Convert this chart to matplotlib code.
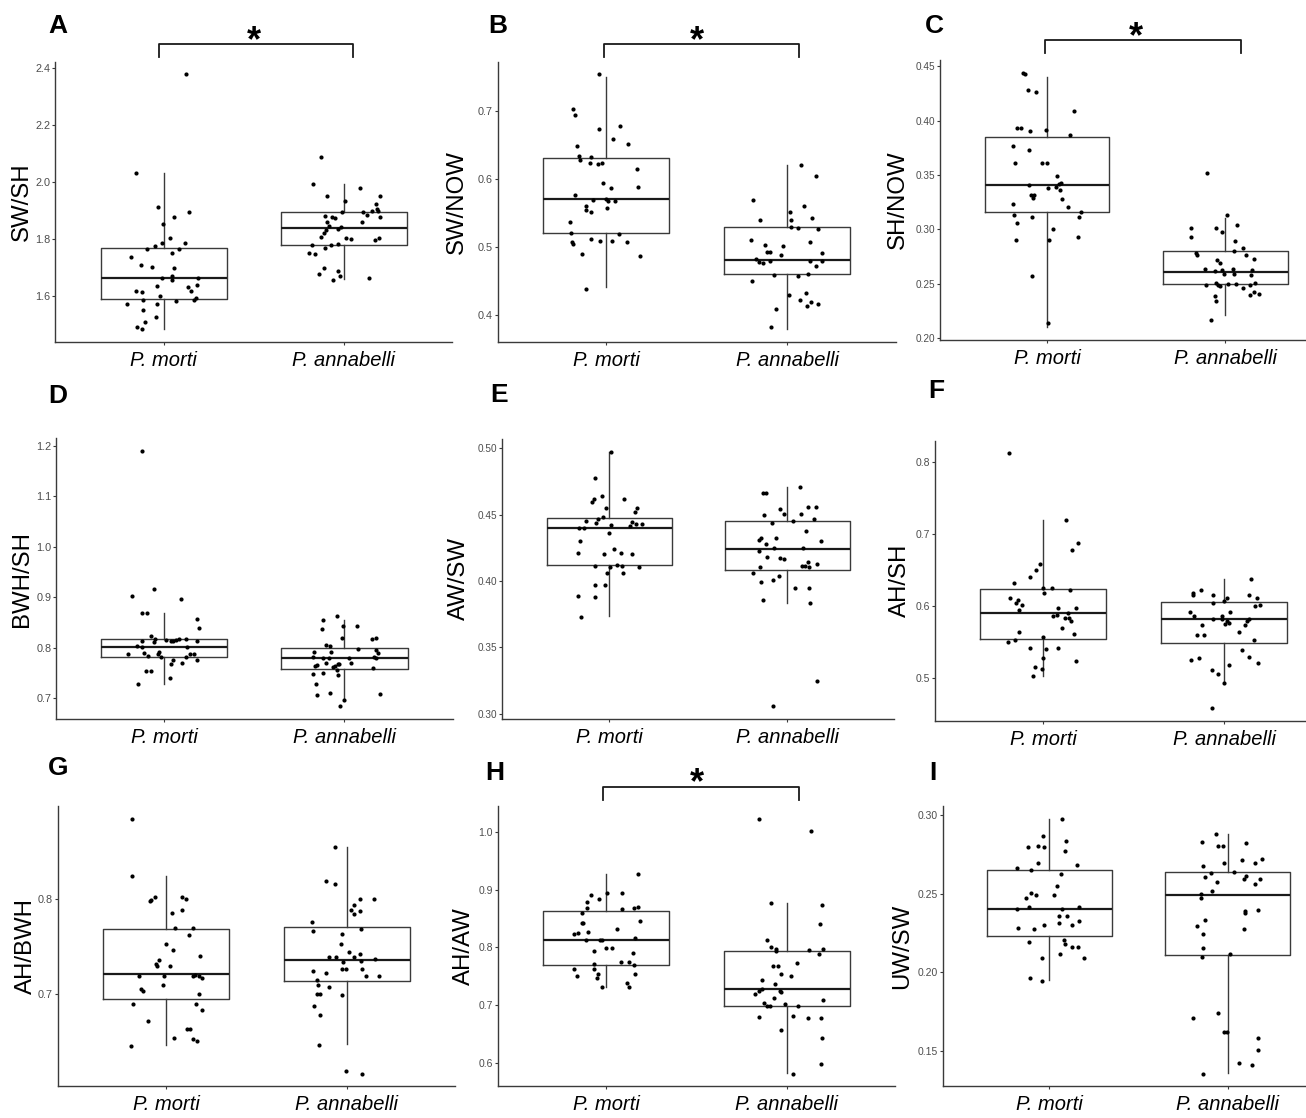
import numpy as np
import matplotlib
matplotlib.use("Agg")
import matplotlib.pyplot as plt
import matplotlib.transforms as mtransforms

plt.rcParams['font.family'] = ['Liberation Sans', 'DejaVu Sans']

SPECIES = ['P. morti', 'P. annabelli']

# jitter offsets are stored in 1/540 of the spacing between the two groups
JIT_UNIT = 540.0

# ---- A: SW/SH ----
A_MORTI = [2.376, 2.031, 1.913, 1.895, 1.853, 1.878, 1.802, 1.787, 1.787, 1.774, 1.766, 1.766, 1.738,
           1.750, 1.709, 1.702, 1.699, 1.662, 1.669, 1.656, 1.662, 1.637, 1.640, 1.633, 1.619, 1.619,
           1.615, 1.602, 1.592, 1.588, 1.586, 1.584, 1.572, 1.574, 1.550, 1.526, 1.509, 1.492, 1.485]
A_MORTI_DX = [67, -83, -18, 75, -2, 31, 18, -6, 64, -27, -51, 45, -97, 24, -67, -34, 30, -4, 26, 26,
              104, -21, 100, 73, 82, -84, -65, -12, 97, -63, 92, 36, -109, -19, -63, -22, -55, -81, -64]
A_ANNA = [2.087, 1.991, 1.949, 1.977, 1.951, 1.934, 1.923, 1.905, 1.897, 1.895, 1.894, 1.897, 1.885,
          1.879, 1.876, 1.874, 1.876, 1.859, 1.859, 1.843, 1.847, 1.835, 1.833, 1.820, 1.807, 1.802,
          1.800, 1.802, 1.797, 1.780, 1.781, 1.778, 1.770, 1.752, 1.748, 1.700, 1.688, 1.678, 1.671,
          1.658, 1.663]
A_ANNA_DX = [-68, -94, -52, 48, 107, 3, 97, 98, 85, 57, -5, 103, 70, -57, -37, -26, 107, 54, -50, -10,
             -44, -19, -55, -59, -70, 7, 21, 106, 94, -97, -17, -40, -58, -106, -86, -59, -17, -74, -13,
             -32, 74]
A_BOX = [[1.485, 1.591, 1.664, 1.770, 2.031], [1.659, 1.780, 1.840, 1.895, 1.991]]
A_TICKS = [1.6, 1.8, 2.0, 2.2, 2.4]

# ---- B: SW/NOW ----
B_MORTI = [0.753, 0.702, 0.693, 0.673, 0.677, 0.658, 0.651, 0.648, 0.633, 0.627, 0.632, 0.623, 0.622,
           0.623, 0.614, 0.594, 0.586, 0.588, 0.577, 0.569, 0.570, 0.568, 0.568, 0.560, 0.554, 0.551,
           0.557, 0.537, 0.521, 0.508, 0.504, 0.512, 0.509, 0.509, 0.519, 0.507, 0.490, 0.487, 0.439]
B_MORTI_DX = [-20, -100, -94, -22, 41, 20, 65, -87, -81, -79, -44, -49, -24, -11, 93, -8, 15, 95, -94,
              -40, -1, 5, 26, -60, -61, -44, 2, -107, -106, -103, -99, -44, -18, 19, 39, 62, -72, 101, -60]
B_ANNA = [0.620, 0.604, 0.569, 0.560, 0.551, 0.539, 0.539, 0.542, 0.529, 0.528, 0.527, 0.510, 0.507,
          0.503, 0.501, 0.493, 0.493, 0.489, 0.492, 0.483, 0.478, 0.477, 0.479, 0.479, 0.479, 0.473,
          0.459, 0.458, 0.460, 0.451, 0.430, 0.432, 0.422, 0.420, 0.417, 0.413, 0.409, 0.383]
B_ANNA_DX = [41, 87, -103, 50, 8, -82, 13, 73, 11, 34, 91, -108, 69, -65, -12, -61, -52, -18, 103, -92,
             -85, -71, -52, 68, 105, 86, -38, 34, 62, -106, 7, 57, 38, 71, 91, 58, -34, -47]
B_BOX = [[0.442, 0.520, 0.570, 0.630, 0.749], [0.380, 0.460, 0.481, 0.529, 0.621]]
B_TICKS = [0.4, 0.5, 0.6, 0.7]

# ---- C: SH/NOW ----
C_MORTI = [0.444, 0.443, 0.428, 0.426, 0.409, 0.393, 0.393, 0.390, 0.391, 0.387, 0.377, 0.373, 0.361,
           0.361, 0.361, 0.349, 0.343, 0.342, 0.341, 0.339, 0.338, 0.336, 0.332, 0.332, 0.329, 0.328,
           0.321, 0.323, 0.316, 0.313, 0.306, 0.311, 0.311, 0.300, 0.293, 0.290, 0.290, 0.257, 0.214]
C_MORTI_DX = [-72, -68, -57, -34, 81, -91, -78, -50, -4, 69, -104, -54, -98, -16, 0, 31, 43, 35, -53, 26,
              3, 40, -47, -40, -43, 44, 65, -104, 104, -100, -92, -45, 98, 19, 94, -95, 5, -46, 3]
C_ANNA = [0.352, 0.313, 0.304, 0.301, 0.301, 0.298, 0.293, 0.289, 0.283, 0.280, 0.278, 0.276, 0.276,
          0.272, 0.273, 0.269, 0.264, 0.263, 0.264, 0.263, 0.262, 0.259, 0.259, 0.258, 0.251, 0.249,
          0.251, 0.249, 0.250, 0.250, 0.249, 0.248, 0.246, 0.242, 0.241, 0.240, 0.239, 0.234, 0.217]
C_ANNA_DX = [-55, 6, 37, -105, -29, -10, -105, 28, 53, 27, -89, -86, 63, -24, 87, -17, -60, -10, 24, 80,
             -31, -3, 25, 77, 90, -58, -28, -23, 9, 32, 75, -16, 55, 87, 102, 76, -31, -27, -44]
C_BOX = [[0.210, 0.316, 0.341, 0.385, 0.440], [0.221, 0.250, 0.261, 0.280, 0.310]]
C_TICKS = [0.20, 0.25, 0.30, 0.35, 0.40, 0.45]

# ---- D: BWH/SH ----
D_MORTI = [1.189, 0.916, 0.903, 0.897, 0.869, 0.868, 0.856, 0.839, 0.823, 0.818, 0.816, 0.814, 0.816,
           0.817, 0.818, 0.813, 0.813, 0.812, 0.813, 0.803, 0.801, 0.801, 0.792, 0.788, 0.789, 0.788,
           0.784, 0.787, 0.788, 0.781, 0.781, 0.776, 0.775, 0.768, 0.769, 0.753, 0.753, 0.739, 0.728]
D_MORTI_DX = [-65, -29, -96, 49, -67, -52, 97, 105, -38, -28, 6, 26, 35, 45, 65, 97, -67, -31, 20, -82,
              -65, 68, -17, -19, -61, -108, -47, 76, 88, -11, 65, 26, 97, 21, 53, -54, -40, 16, -78]
D_ANNA = [0.862, 0.854, 0.842, 0.842, 0.836, 0.820, 0.820, 0.817, 0.805, 0.803, 0.798, 0.796, 0.792,
          0.792, 0.789, 0.781, 0.779, 0.780, 0.779, 0.781, 0.780, 0.769, 0.767, 0.769, 0.768, 0.763,
          0.764, 0.765, 0.761, 0.759, 0.755, 0.747, 0.750, 0.745, 0.729, 0.711, 0.706, 0.709, 0.697,
          0.684]
D_ANNA_DX = [-23, -65, 37, -3, -68, 95, -6, 83, -56, -44, 40, 95, -90, -40, 101, -95, -64, -46, 13, 88,
             95, -56, -20, 21, -15, -28, -89, -82, -34, 84, -22, -93, -63, -18, -86, -43, -83, 106, -2, -13]
D_BOX = [[0.729, 0.781, 0.802, 0.817, 0.868], [0.697, 0.757, 0.780, 0.800, 0.854]]
D_TICKS = [0.7, 0.8, 0.9, 1.0, 1.1, 1.2]

# ---- E: AW/SW ----
E_MORTI = [0.4975, 0.4777, 0.4640, 0.4617, 0.4597, 0.4620, 0.4552, 0.4547, 0.4517, 0.4482, 0.4469,
           0.4454, 0.4434, 0.4442, 0.4427, 0.4432, 0.4412, 0.4422, 0.4402, 0.4397, 0.4359, 0.4304,
           0.4244, 0.4214, 0.4204, 0.4209, 0.4201, 0.4116, 0.4121, 0.4111, 0.4104, 0.4104, 0.4064,
           0.4059, 0.3969, 0.3969, 0.3886, 0.3876, 0.3731]
E_MORTI_DX = [5, -43, -22, -46, -53, 44, -10, 85, 79, -19, -33, -71, -41, 69, 82, 101, 64, 5, -92, -75,
              0, -89, 15, -95, -15, 37, 68, -44, 24, 40, 2, 90, -7, 43, -44, -14, -95, -44, -87]
E_ANNA = [0.4712, 0.4662, 0.4662, 0.4559, 0.4559, 0.4544, 0.4507, 0.4507, 0.4494, 0.4467, 0.4454,
          0.4439, 0.4374, 0.4322, 0.4322, 0.4307, 0.4304, 0.4279, 0.4252, 0.4252, 0.4227, 0.4184,
          0.4174, 0.4169, 0.4141, 0.4116, 0.4116, 0.4126, 0.4104, 0.4104, 0.4059, 0.4034, 0.4005,
          0.3989, 0.3946, 0.3946, 0.3859, 0.3836, 0.3245, 0.3055]
E_ANNA_DX = [39, -72, -65, 63, 87, -21, -11, 41, -69, 81, 17, -47, 58, -34, -80, -86, 102, -63, -39, 47,
             -85, -62, -21, -11, 63, 44, 54, 90, 66, -83, -104, -26, -42, -80, 25, 66, -74, 68, 89, -43]
E_BOX = [[0.3733, 0.4119, 0.4397, 0.4474, 0.4975], [0.3836, 0.4086, 0.4239, 0.4452, 0.4712]]
E_TICKS = [0.30, 0.35, 0.40, 0.45, 0.50]

# ---- F: AH/SH ----
F_MORTI = [0.812, 0.719, 0.688, 0.678, 0.659, 0.651, 0.640, 0.632, 0.625, 0.625, 0.623, 0.619, 0.612,
           0.609, 0.604, 0.602, 0.597, 0.597, 0.595, 0.591, 0.588, 0.586, 0.584, 0.584, 0.579, 0.570,
           0.564, 0.561, 0.557, 0.553, 0.551, 0.542, 0.542, 0.541, 0.528, 0.524, 0.516, 0.513, 0.504]
F_MORTI_DX = [-103, 67, 104, 85, -10, -22, -39, -88, 28, 1, 79, 2, -100, -74, -81, -63, 98, 43, -72, 73,
              40, 29, 65, 78, 83, 56, -71, 91, 0, -85, -105, -39, 44, 8, 0, 99, -24, -4, -31]
F_ANNA = [0.638, 0.622, 0.618, 0.616, 0.616, 0.616, 0.612, 0.611, 0.608, 0.602, 0.600, 0.605, 0.592,
          0.592, 0.586, 0.587, 0.583, 0.582, 0.583, 0.580, 0.579, 0.577, 0.575, 0.574, 0.574, 0.565,
          0.560, 0.560, 0.553, 0.539, 0.528, 0.530, 0.525, 0.522, 0.518, 0.512, 0.506, 0.494, 0.459]
F_ANNA_DX = [81, -70, -92, -92, -33, 75, 97, 9, 0, 107, 92, -32, -102, 19, -91, -7, -6, -32, 75, 69, 10,
             16, 2, -66, 63, 45, -80, -59, 88, 53, -76, 75, -99, 100, 14, -36, -17, 0, -37]
F_BOX = [[0.504, 0.554, 0.591, 0.624, 0.719], [0.494, 0.549, 0.582, 0.606, 0.638]]
F_TICKS = [0.5, 0.6, 0.7, 0.8]

# ---- G: AH/BWH ----
G_MORTI = [0.884, 0.824, 0.802, 0.798, 0.799, 0.802, 0.800, 0.789, 0.785, 0.770, 0.770, 0.762, 0.753,
           0.747, 0.740, 0.736, 0.732, 0.730, 0.730, 0.719, 0.719, 0.719, 0.720, 0.719, 0.717, 0.710,
           0.706, 0.704, 0.700, 0.690, 0.690, 0.684, 0.672, 0.664, 0.664, 0.654, 0.653, 0.651, 0.646]
G_MORTI_DX = [-103, -102, -34, -47, -44, 48, 58, 47, 17, 25, 79, 67, -2, 20, 102, -23, -32, -28, 11, -82,
              -8, 80, 86, 99, 108, -11, -74, -68, 98, -98, 88, 106, -55, 61, 71, 22, 79, 91, -105]
G_ANNA = [0.855, 0.819, 0.816, 0.800, 0.800, 0.794, 0.789, 0.788, 0.784, 0.776, 0.767, 0.769, 0.763,
          0.753, 0.744, 0.742, 0.739, 0.739, 0.739, 0.737, 0.735, 0.734, 0.727, 0.727, 0.727, 0.725,
          0.723, 0.715, 0.719, 0.719, 0.710, 0.708, 0.700, 0.700, 0.699, 0.688, 0.678, 0.647, 0.620,
          0.617]
G_ANNA_DX = [-37, -63, -37, 40, 80, 20, 12, 38, 20, -103, -102, 42, -16, -18, 5, 38, -55, -32, 20, 85, 41,
             -12, -14, -4, 44, -102, -63, -90, 56, 96, -86, -54, -88, -79, -16, -98, -80, -83, -2, 44]
G_BOX = [[0.647, 0.695, 0.721, 0.769, 0.824], [0.648, 0.714, 0.736, 0.771, 0.855]]
G_TICKS = [0.7, 0.8]

# ---- H: AH/AW ----
H_MORTI = [0.928, 0.895, 0.894, 0.890, 0.884, 0.878, 0.869, 0.870, 0.869, 0.866, 0.859, 0.846, 0.842,
           0.842, 0.831, 0.826, 0.824, 0.823, 0.816, 0.812, 0.812, 0.812, 0.798, 0.798, 0.793, 0.790,
           0.775, 0.775, 0.770, 0.771, 0.762, 0.762, 0.754, 0.754, 0.750, 0.747, 0.738, 0.732, 0.731]
H_MORTI_DX = [96, 2, 47, -45, -23, -58, -58, 94, 82, 47, -72, 102, -72, -70, 31, -53, -83, -97, 87, -60,
              -18, -13, 0, 17, -37, 81, 44, 69, 83, -36, -38, -97, -25, 86, -86, -28, 63, 68, -13]
H_ANNA = [1.023, 1.001, 0.876, 0.873, 0.841, 0.812, 0.800, 0.797, 0.797, 0.795, 0.794, 0.789, 0.773,
          0.768, 0.767, 0.753, 0.750, 0.744, 0.737, 0.725, 0.727, 0.724, 0.719, 0.723, 0.712, 0.704,
          0.708, 0.699, 0.699, 0.701, 0.699, 0.679, 0.681, 0.677, 0.678, 0.657, 0.643, 0.598, 0.581]
H_ANNA_DX = [-83, 71, -47, 105, 98, -59, -48, -33, 108, 66, -34, 95, 30, -43, -28, -17, 13, -74, -35, -20,
             -75, -82, -96, -17, -40, -68, 107, -50, -60, -7, 32, -83, 19, 63, 102, -17, 104, 102, 18]
H_BOX = [[0.731, 0.770, 0.812, 0.863, 0.928], [0.582, 0.699, 0.727, 0.794, 0.876]]
H_TICKS = [0.6, 0.7, 0.8, 0.9, 1.0]

# ---- I: UW/SW ----
I_MORTI = [0.2975, 0.2837, 0.2868, 0.2771, 0.2798, 0.2803, 0.2798, 0.2697, 0.2680, 0.2661, 0.2650,
           0.2622, 0.2548, 0.2501, 0.2489, 0.2489, 0.2470, 0.2412, 0.2400, 0.2400, 0.2417, 0.2359,
           0.2355, 0.2327, 0.2310, 0.2302, 0.2300, 0.2281, 0.2272, 0.2202, 0.2181, 0.2194, 0.2160,
           0.2160, 0.2115, 0.2092, 0.2092, 0.1960, 0.1945]
I_MORTI_DX = [38, 49, -21, 47, -65, -36, -18, -36, 82, -99, -57, 36, 23, -57, -41, 15, -70, -61, -97, 38,
              88, 52, 30, 90, 30, -16, 68, -95, -47, 45, 47, -61, 68, 86, 32, -23, 105, -59, -24]
I_ANNA = [0.2879, 0.2830, 0.2820, 0.2801, 0.2801, 0.2722, 0.2716, 0.2697, 0.2692, 0.2677, 0.2635,
          0.2631, 0.2614, 0.2603, 0.2595, 0.2590, 0.2571, 0.2561, 0.2516, 0.2499, 0.2472, 0.2387,
          0.2378, 0.2393, 0.2332, 0.2291, 0.2276, 0.2245, 0.2156, 0.2094, 0.2115, 0.1704, 0.1738,
          0.1617, 0.1617, 0.1581, 0.1502, 0.1421, 0.1409, 0.1353]
I_ANNA_DX = [-36, -78, 54, -29, -13, 103, 44, -11, 82, -74, 20, -52, 55, -69, 98, 49, -34, 82, -47, -82,
             -80, 52, 52, 91, -70, -92, 48, -74, -76, -78, 7, -106, -30, -12, -2, 91, 93, 34, 74, -76]
I_BOX = [[0.1948, 0.2232, 0.2402, 0.2652, 0.2975], [0.1356, 0.2109, 0.2491, 0.2639, 0.2877]]
I_TICKS = [0.15, 0.20, 0.25, 0.30]

LETTERS = ['A', 'B', 'C', 'D', 'E', 'F', 'G', 'H', 'I']
YLABELS = ['SW/SH', 'SW/NOW', 'SH/NOW', 'BWH/SH', 'AW/SW', 'AH/SH', 'AH/BWH', 'AH/AW', 'UW/SW']


def main():
    W, H = 1306, 1118
    fig = plt.figure(figsize=(W / 100, H / 100), dpi=100)

    data = {
        'A': (A_MORTI, A_MORTI_DX, A_ANNA, A_ANNA_DX, A_BOX, A_TICKS, 1),
        'B': (B_MORTI, B_MORTI_DX, B_ANNA, B_ANNA_DX, B_BOX, B_TICKS, 1),
        'C': (C_MORTI, C_MORTI_DX, C_ANNA, C_ANNA_DX, C_BOX, C_TICKS, 2),
        'D': (D_MORTI, D_MORTI_DX, D_ANNA, D_ANNA_DX, D_BOX, D_TICKS, 1),
        'E': (E_MORTI, E_MORTI_DX, E_ANNA, E_ANNA_DX, E_BOX, E_TICKS, 2),
        'F': (F_MORTI, F_MORTI_DX, F_ANNA, F_ANNA_DX, F_BOX, F_TICKS, 1),
        'G': (G_MORTI, G_MORTI_DX, G_ANNA, G_ANNA_DX, G_BOX, G_TICKS, 1),
        'H': (H_MORTI, H_MORTI_DX, H_ANNA, H_ANNA_DX, H_BOX, H_TICKS, 1),
        'I': (I_MORTI, I_MORTI_DX, I_ANNA, I_ANNA_DX, I_BOX, I_TICKS, 2),
    }

    # layout in pixels: left, top, bottom, group spacing, tick fontsize, ylabel x, letter x, letter y
    layout = {
        'A': (55.5, 61.7, 341.7, 180.3, 7.8, 22, 48, 33),
        'B': (497.5, 61.7, 341.7, 181.0, 7.8, 457, 488, 33),
        'C': (940.0, 60.0, 340.0, 178.3, 7.2, 898, 925, 33),
        'D': (56.0, 438.3, 719.0, 180.3, 7.8, 22, 48, 403),
        'E': (502.4, 439.0, 719.0, 178.0, 7.2, 459, 490, 402),
        'F': (934.5, 440.7, 720.7, 181.0, 7.5, 900, 928, 398),
        'G': (57.8, 806.3, 1086.3, 180.7, 7.8, 26, 48, 775),
        'H': (497.8, 806.0, 1086.3, 180.7, 7.5, 464, 485, 780),
        'I': (942.5, 806.3, 1086.3, 178.3, 7.5, 902, 929, 780),
    }

    # bracket: x from, x to (group units), bar y and tick end y (axes fraction)
    brackets = {
        'A': (0.972, 2.052, 1.063, 1.017),
        'B': (0.990, 2.068, 1.063, 1.017),
        'C': (0.990, 2.090, 1.071, 1.025),
        'H': (0.983, 2.068, 1.069, 1.022),
    }

    line_col = '#3a3a3a'
    for letter, ylabel in zip(LETTERS, YLABELS):
        morti, morti_dx, anna, anna_dx, box, ticks, dec = data[letter]
        left, top, bottom, spacing, tfs, lab_x, let_x, let_y = layout[letter]
        width = 2.2 * spacing
        ax = fig.add_axes([left / W, 1 - bottom / H, width / W, (bottom - top) / H])

        stats = [dict(whislo=b[0], q1=b[1], med=b[2], q3=b[3], whishi=b[4], label=s)
                 for b, s in zip(box, SPECIES)]
        ax.bxp(stats, positions=[1, 2], widths=0.7, showfliers=False, showcaps=False,
               boxprops=dict(color=line_col, lw=1.0),
               whiskerprops=dict(color=line_col, lw=1.0),
               medianprops=dict(color='#1a1a1a', lw=1.6))

        for pos, vals, dx in [(1, morti, morti_dx), (2, anna, anna_dx)]:
            xs = pos + np.array(dx) / JIT_UNIT
            ax.scatter(xs, vals, s=9, color='black', linewidths=0, zorder=3)

        ax.margins(y=0.05)
        ax.set_xlim(0.4, 2.6)
        ax.set_xticks([1, 2])
        ax.set_xticklabels(SPECIES, fontstyle='italic', fontsize=14.5)
        ax.set_yticks(ticks)
        ax.set_yticklabels([f'{t:.{dec}f}' for t in ticks])

        for side in ['top', 'right']:
            ax.spines[side].set_visible(False)
        for side in ['left', 'bottom']:
            ax.spines[side].set_color(line_col)
            ax.spines[side].set_linewidth(1.0)
        ax.tick_params(axis='y', length=2.2, width=0.8, color=line_col, labelsize=tfs,
                       labelcolor='#4d4d4d', pad=1.2)
        ax.tick_params(axis='x', length=2.5, width=0.8, color=line_col, pad=4.0, labelcolor='black')

        mid_y = (top + bottom) / 2
        fig.text(lab_x / W, 1 - mid_y / H, ylabel, rotation=90, ha='center', va='center',
                 fontsize=17.3)
        fig.text(let_x / W, 1 - let_y / H, letter, ha='left', va='baseline',
                 fontsize=19, fontweight='bold')

        if letter in brackets:
            x0, x1, ybar, ytick = brackets[letter]
            trans = mtransforms.blended_transform_factory(ax.transData, ax.transAxes)
            ax.plot([x0, x0, x1, x1], [ytick, ybar, ybar, ytick], transform=trans,
                    color='#1a1a1a', lw=1.3, clip_on=False)
            ax.text(1.5, ybar - 0.025, '*', transform=trans, ha='center', va='baseline',
                    fontsize=26, fontweight='bold', clip_on=False)

    fig.savefig('out.png', dpi=100)


if __name__ == "__main__":
    main()
